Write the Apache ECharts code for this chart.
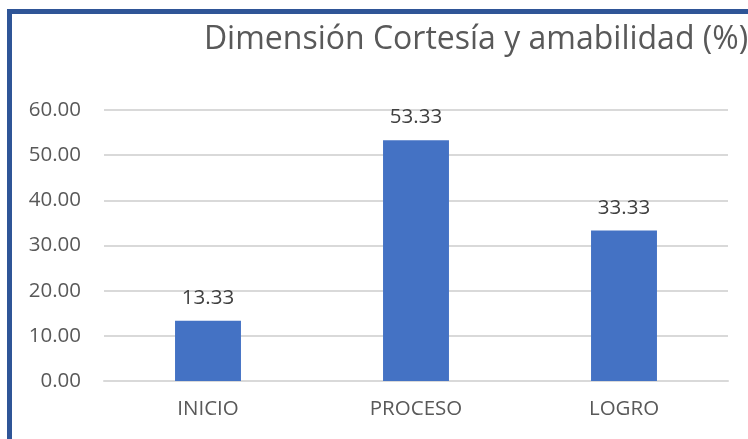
<!DOCTYPE html>
<html><head><meta charset="utf-8">
<script src="https://cdn.jsdelivr.net/npm/echarts@6/dist/echarts.min.js"></script>
<style>html,body{margin:0;padding:0;background:#fff}#c{width:748px;height:439px}</style>
</head><body><div id="c"></div>
<script>
const categories = ["INICIO", "PROCESO", "LOGRO"];
const values = [13.33, 53.33, 33.33];
const titleText = "Dimensión Cortesía y amabilidad (%)";
const chart = echarts.init(document.getElementById('c'));
const font = "Open Sans";
chart.setOption({
  animation: false,
  title: { text: titleText, left: 471, textAlign: 'center', top: 19,
    textStyle: { fontFamily: font, fontSize: 32, fontWeight: 'normal', color: '#595959' } },
  graphic: [
    { type: 'rect', shape: { x: 7, y: 9, width: 5, height: 430 }, style: { fill: '#2F5597' } },
    { type: 'rect', shape: { x: 7, y: 9, width: 741, height: 5 }, style: { fill: '#2F5597' } }
  ],
  grid: { left: 104, right: 20, top: 110, bottom: 58 },
  xAxis: { type: 'category', data: categories,
    axisLine: { lineStyle: { color: '#d9d9d9', width: 2 } }, axisTick: { show: false },
    axisLabel: { fontFamily: font, fontSize: 20.5, color: '#595959', margin: 18 } },
  yAxis: { type: 'value', min: 0, max: 60, interval: 10,
    axisLine: { show: false }, axisTick: { show: false },
    splitLine: { lineStyle: { color: '#d9d9d9', width: 2 } },
    axisLabel: { fontFamily: font, fontSize: 20.5, color: '#595959', margin: 23,
      formatter: v => v.toFixed(2) } },
  series: [{ type: 'bar', data: values, barWidth: '31.7%',
    itemStyle: { color: '#4472C4' },
    label: { show: true, position: 'top', distance: 12, fontFamily: font, fontSize: 20.5, color: '#404040',
      formatter: p => p.value.toFixed(2) } }]
});
</script></body></html>
